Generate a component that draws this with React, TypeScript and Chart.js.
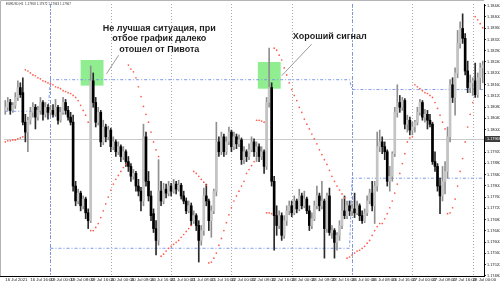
import React, { useEffect, useRef } from "react";
import { Chart, registerables } from "chart.js";

Chart.register(...registerables);

// ---- H1 candles (EURUSD, 16 Jul 2021 06:00 → 28 Jul 2021) ----
const openP = [
  1.18068, 1.18079, 1.18096, 1.18068, 1.18086, 1.18114, 1.18149, 1.18131, 1.18026, 1.17991,
  1.18033, 1.18061, 1.18079, 1.18044, 1.18068, 1.18096, 1.18054, 1.18079, 1.18061, 1.18068,
  1.18054, 1.18079, 1.18033, 1.18061, 1.18096, 1.18068, 1.18044, 1.18026, 1.17799, 1.17746,
  1.17774, 1.17729, 1.17753, 1.17704, 1.17676, 1.18173, 1.18096, 1.18026, 1.18061, 1.17956,
  1.18009, 1.17974, 1.17998, 1.17939, 1.17956, 1.17921, 1.17939, 1.17904, 1.17921, 1.17886,
  1.17869, 1.17834, 1.17844, 1.17799, 1.17781, 1.17746, 1.17974, 1.17816, 1.17764, 1.17701,
  1.17648, 1.17606, 1.17781, 1.17746, 1.17788, 1.17774, 1.17799, 1.17781, 1.17806, 1.17788,
  1.17802, 1.17764, 1.17746, 1.17711, 1.17729, 1.17676, 1.17694, 1.17659, 1.17606, 1.17641,
  1.17764, 1.17746, 1.17676, 1.17711, 1.17781, 1.17956, 1.17921, 1.17974, 1.17921, 1.17956,
  1.17991, 1.17939, 1.17974, 1.17949, 1.17963, 1.17893, 1.17921, 1.17904, 1.17928,
  1.17956, 1.17921, 1.17939, 1.17904, 1.17921, 1.17869, 1.18096, 1.18149, 1.17816, 1.17694,
  1.17659, 1.17694, 1.17624, 1.17676, 1.17711, 1.17729, 1.17704, 1.17746, 1.17718, 1.17764,
  1.17729, 1.17753, 1.17711, 1.17659, 1.17683, 1.17729, 1.17764, 1.17729, 1.17746, 1.17648,
  1.17764, 1.17634, 1.17641, 1.17599, 1.17624, 1.17659, 1.17711, 1.17694, 1.17729, 1.17711,
  1.17718, 1.17704, 1.17729, 1.17694, 1.17676, 1.17704, 1.17746, 1.17774, 1.17729, 1.17799,
  1.17939, 1.17956, 1.17939, 1.17921, 1.17816, 1.17834, 1.17914, 1.18061, 1.18096, 1.18079,
  1.18103, 1.18019, 1.18033, 1.17998, 1.18009, 1.18026, 1.18061, 1.18096, 1.18044, 1.18054,
  1.18033, 1.18019, 1.17886, 1.17869, 1.17799, 1.17764, 1.17816, 1.17851, 1.17974, 1.18159,
  1.18114, 1.18201, 1.18306, 1.18359, 1.18324, 1.18208, 1.18149, 1.18166, 1.18173,
  1.18124, 1.18184, 1.18219,
];
const highP = [
  1.18103, 1.18114, 1.18107, 1.18096, 1.18131, 1.18173, 1.18166, 1.18184, 1.18054, 1.18044,
  1.18079, 1.18096, 1.18089, 1.18082, 1.18114, 1.18103, 1.18096, 1.18089, 1.18086, 1.18089,
  1.18107, 1.18086, 1.18079, 1.18114, 1.18107, 1.18082, 1.18061, 1.18051, 1.17816, 1.17788,
  1.17781, 1.17764, 1.17760, 1.17718, 1.18226, 1.18201, 1.18114, 1.18079, 1.18068, 1.18033,
  1.18019, 1.18012, 1.18005, 1.17974, 1.17963, 1.17956, 1.17946, 1.17939, 1.17928, 1.17904,
  1.17879, 1.17858, 1.17851, 1.17823, 1.17795, 1.18019, 1.17991, 1.17851, 1.17781, 1.17718,
  1.17676, 1.17893, 1.17816, 1.17809, 1.17806, 1.17816, 1.17809, 1.17823, 1.17816, 1.17820,
  1.17809, 1.17781, 1.17757, 1.17746, 1.17739, 1.17711, 1.17701, 1.17676, 1.17659, 1.17792,
  1.17806, 1.17753, 1.17729, 1.17788, 1.18026, 1.17974, 1.17991, 1.17984, 1.17974, 1.18009,
  1.17998, 1.17991, 1.17984, 1.17981, 1.17970, 1.17939, 1.17928, 1.17949, 1.17974,
  1.17967, 1.17956, 1.17949, 1.17939, 1.17928, 1.18114, 1.18289, 1.18166, 1.17834, 1.17729,
  1.17711, 1.17704, 1.17694, 1.17729, 1.17746, 1.17746, 1.17764, 1.17753, 1.17788, 1.17774,
  1.17781, 1.17760, 1.17729, 1.17704, 1.17746, 1.17799, 1.17774, 1.17816, 1.17753, 1.17774,
  1.17792, 1.17659, 1.17648, 1.17634, 1.17676, 1.17753, 1.17764, 1.17746, 1.17746, 1.17736,
  1.17774, 1.17746, 1.17736, 1.17711, 1.17718, 1.17764, 1.17788, 1.17816, 1.17816, 1.17991,
  1.17998, 1.17974, 1.17956, 1.17928, 1.17869, 1.17921, 1.18079, 1.18159, 1.18121, 1.18114,
  1.18110, 1.18051, 1.18044, 1.18026, 1.18033, 1.18079, 1.18107, 1.18103, 1.18072, 1.18068,
  1.18054, 1.18026, 1.17921, 1.17879, 1.17827, 1.17869, 1.17886, 1.18009, 1.18177, 1.18184,
  1.18219, 1.18352, 1.18383, 1.18411, 1.18341, 1.18243, 1.18194, 1.18184, 1.18236,
  1.18201, 1.18236, 1.18243,
];
const lowP = [
  1.18054, 1.18068, 1.18054, 1.18061, 1.18075, 1.18103, 1.18114, 1.18016, 1.17956, 1.17921,
  1.18019, 1.18044, 1.18002, 1.18033, 1.18054, 1.18033, 1.18044, 1.18037, 1.18051, 1.18044,
  1.18047, 1.18019, 1.18026, 1.18054, 1.18054, 1.18033, 1.18016, 1.17781, 1.17729, 1.17736,
  1.17711, 1.17718, 1.17683, 1.17648, 1.17669, 1.18079, 1.18009, 1.18016, 1.17939, 1.17946,
  1.17956, 1.17963, 1.17921, 1.17928, 1.17904, 1.17911, 1.17886, 1.17893, 1.17869, 1.17851,
  1.17816, 1.17823, 1.17781, 1.17764, 1.17711, 1.17729, 1.17799, 1.17746, 1.17676, 1.17634,
  1.17554, 1.17589, 1.17729, 1.17736, 1.17757, 1.17764, 1.17764, 1.17774, 1.17771, 1.17781,
  1.17753, 1.17736, 1.17701, 1.17704, 1.17659, 1.17666, 1.17641, 1.17529, 1.17589, 1.17624,
  1.17729, 1.17641, 1.17617, 1.17701, 1.17764, 1.17904, 1.17911, 1.17904, 1.17911, 1.17946,
  1.17921, 1.17928, 1.17932, 1.17939, 1.17876, 1.17879, 1.17886, 1.17893, 1.17921,
  1.17904, 1.17886, 1.17886, 1.17893, 1.17844, 1.17858, 1.18079, 1.17799, 1.17571, 1.17624,
  1.17648, 1.17606, 1.17613, 1.17659, 1.17697, 1.17690, 1.17697, 1.17704, 1.17711, 1.17718,
  1.17722, 1.17701, 1.17641, 1.17648, 1.17676, 1.17718, 1.17711, 1.17718, 1.17543, 1.17634,
  1.17624, 1.17613, 1.17543, 1.17571, 1.17606, 1.17648, 1.17683, 1.17683, 1.17694, 1.17694,
  1.17687, 1.17697, 1.17676, 1.17666, 1.17669, 1.17694, 1.17736, 1.17711, 1.17666, 1.17781,
  1.17921, 1.17914, 1.17893, 1.17799, 1.17781, 1.17816, 1.17904, 1.18044, 1.18061, 1.18068,
  1.18002, 1.17991, 1.17981, 1.17981, 1.17991, 1.18016, 1.18051, 1.18033, 1.18026, 1.18002,
  1.18009, 1.17876, 1.17851, 1.17781, 1.17701, 1.17746, 1.17771, 1.17827, 1.17956, 1.18096,
  1.18051, 1.18184, 1.18289, 1.18306, 1.18194, 1.18131, 1.18131, 1.18121, 1.18114,
  1.18114, 1.18142, 1.18166,
];
const closeP = [
  1.18079, 1.18096, 1.18068, 1.18086, 1.18114, 1.18149, 1.18124, 1.18026, 1.17991, 1.18033,
  1.18061, 1.18079, 1.18044, 1.18068, 1.18096, 1.18054, 1.18079, 1.18061, 1.18068, 1.18054,
  1.18079, 1.18033, 1.18061, 1.18096, 1.18068, 1.18044, 1.18026, 1.17799, 1.17746, 1.17774,
  1.17729, 1.17753, 1.17704, 1.17676, 1.18173, 1.18096, 1.18026, 1.18061, 1.17956, 1.18009,
  1.17974, 1.17998, 1.17939, 1.17956, 1.17921, 1.17939, 1.17904, 1.17921, 1.17886, 1.17869,
  1.17834, 1.17844, 1.17799, 1.17781, 1.17746, 1.17974, 1.17816, 1.17764, 1.17694, 1.17648,
  1.17606, 1.17781, 1.17746, 1.17788, 1.17774, 1.17799, 1.17781, 1.17806, 1.17788, 1.17802,
  1.17764, 1.17746, 1.17711, 1.17729, 1.17676, 1.17694, 1.17659, 1.17606, 1.17641, 1.17764,
  1.17746, 1.17676, 1.17711, 1.17781, 1.17956, 1.17921, 1.17974, 1.17921, 1.17956, 1.17991,
  1.17939, 1.17974, 1.17949, 1.17963, 1.17893, 1.17921, 1.17904, 1.17928, 1.17956,
  1.17921, 1.17939, 1.17904, 1.17921, 1.17869, 1.18096, 1.18149, 1.17816, 1.17694, 1.17659,
  1.17694, 1.17624, 1.17676, 1.17711, 1.17729, 1.17704, 1.17746, 1.17718, 1.17764, 1.17729,
  1.17753, 1.17711, 1.17659, 1.17683, 1.17729, 1.17764, 1.17729, 1.17746, 1.17648, 1.17764,
  1.17634, 1.17641, 1.17599, 1.17624, 1.17659, 1.17711, 1.17694, 1.17729, 1.17711, 1.17718,
  1.17704, 1.17729, 1.17694, 1.17676, 1.17704, 1.17746, 1.17774, 1.17729, 1.17799, 1.17939,
  1.17956, 1.17939, 1.17921, 1.17816, 1.17834, 1.17914, 1.18061, 1.18096, 1.18079, 1.18103,
  1.18019, 1.18033, 1.17998, 1.18009, 1.18026, 1.18061, 1.18096, 1.18044, 1.18054, 1.18033,
  1.18019, 1.17886, 1.17869, 1.17799, 1.17764, 1.17816, 1.17851, 1.17974, 1.18159, 1.18114,
  1.18201, 1.18306, 1.18359, 1.18324, 1.18208, 1.18149, 1.18166, 1.18173, 1.18124,
  1.18184, 1.18219, 1.18229,
];
// ---- Parabolic SAR dots ----
const sarP = [
  1.17956, 1.17960, 1.17960, 1.17963, 1.17963, 1.17967, 1.17970, 1.17974, 1.18212, 1.18208,
  1.18201, 1.18194, 1.18191, 1.18184, 1.18180, 1.18173, 1.18170, 1.18166, 1.18163, 1.18159,
  1.18152, 1.18149, 1.18145, 1.18138, 1.18135, 1.18131, 1.18128, 1.18121, 1.18114, 1.18103,
  1.18086, 1.18068, 1.18051, 1.18026, 1.17641, 1.17641, 1.17652, 1.17666, 1.17687, 1.17711,
  1.17736, 1.17760, 1.17785, 1.17806, 1.17823, 1.17837, 1.17851, 1.17865, 1.17876, 1.18229,
  1.18215, 1.18205, 1.18184, 1.18152, 1.18117, 1.18082, 1.18054, 1.18026, 1.17991, 1.17956,
  1.17928, 1.17904, 1.17550, 1.17557, 1.17568, 1.17578, 1.17585, 1.17592, 1.17599, 1.17606,
  1.17617, 1.17627, 1.17638, 1.17648, 1.17659, 1.17851, 1.17844, 1.17834, 1.17823, 1.17813,
  1.17802, 1.17526, 1.17529, 1.17543, 1.17561, 1.17589, 1.17613, 1.17641, 1.17669, 1.17697,
  1.17722, 1.17746, 1.17764, 1.17781, 1.17799, 1.17816, 1.17844, 1.17858, 1.17872,
  1.17886, 1.18033, 1.18033, 1.18030, 1.18026, 1.17704, 1.17704, 1.17701, 1.18289, 1.18282,
  1.18264, 1.18247, 1.18219, 1.18194, 1.18166, 1.18142, 1.18121, 1.18103, 1.18079, 1.18061,
  1.18037, 1.18019, 1.18002, 1.17984, 1.17967, 1.17949, 1.17928, 1.17911, 1.17893, 1.17876,
  1.17855, 1.17834, 1.17816, 1.17799, 1.17785, 1.17771, 1.17757, 1.17543, 1.17547, 1.17554,
  1.17561, 1.17568, 1.17571, 1.17578, 1.17585, 1.17596, 1.17606, 1.17624, 1.17641, 1.17655,
  1.17666, 1.17666, 1.17683, 1.17701, 1.17722, 1.17746, 1.17774, 1.17806, 1.17844, 1.17879,
  1.17914, 1.17956, 1.17970, 1.17974, 1.18159, 1.18152, 1.18145, 1.18138, 1.18131, 1.18128,
  1.18121, 1.18114, 1.18096, 1.18075, 1.18051, 1.18026, 1.18002, 1.17701, 1.17704, 1.17722,
  1.17753, 1.17799, 1.17851, 1.17897, 1.17956, 1.18009, 1.18054, 1.18096, 1.18401,
  1.18390, 1.18376, 1.18362,
];

// ---- time axis ----
const tickBars = [0, 10, 18, 26, 34, 42, 50, 58, 66, 74, 82, 90, 98, 106, 114, 122, 130, 138, 146, 154, 162, 170, 178, 186];
const tickTexts = [
  "16 Jul 2021", "16 Jul 16:00", "19 Jul 00:00", "19 Jul 08:00", "19 Jul 16:00", "20 Jul 00:00",
  "20 Jul 08:00", "20 Jul 16:00", "21 Jul 00:00", "21 Jul 08:00", "21 Jul 16:00", "22 Jul 00:00",
  "22 Jul 08:00", "22 Jul 16:00", "23 Jul 00:00", "23 Jul 08:00", "23 Jul 16:00", "26 Jul 00:00",
  "26 Jul 08:00", "26 Jul 16:00", "27 Jul 00:00", "27 Jul 08:00", "27 Jul 16:00", "28 Jul 00:00",
];
const dayStartBars = [18, 42, 66, 90, 114, 138, 162, 186];

// ---- weekly pivot levels ----
const weekStartBars = [0, 18, 138];
const pivotUpper: (number | null)[] = [1.18065, 1.18177, 1.18142];
const pivotLower: (number | null)[] = [null, 1.17578, 1.17827];
const bidPrice = 1.17967;

// ---- annotations ----
const boxFrom = [30.0, 100.5];
const boxTo = [39.1, 109.6];
const boxTop = [1.18247, 1.1824];
const boxBottom = [1.18156, 1.18145];
const noteLines = [["Не лучшая ситуация, при", "отбое график далеко", "отошел от Пивота"], ["Хороший сигнал"]];
const noteBar = [61.3, 114.4];
const notePrices = [[1.1836, 1.18322, 1.18285], [1.18329]];
const noteAlign = ["center", "left"];
const pointerFromBar = [40.3, 110.0];
const pointerFromPrice = [1.18198, 1.18191];
const pointerToBar = [45.1, 121.9];
const pointerToPrice = [1.18264, 1.18303];
const headerText = "EURUSD,H1  1.17958 1.17972 1.17943 1.17967";

const FONT = "'Liberation Sans', Arial, sans-serif";

function levelSeries(levels: (number | null)[], n: number) {
  const out: (number | null)[] = [];
  for (let i = 0; i < n; i++) {
    let w = 0;
    for (let k = 0; k < weekStartBars.length; k++) if (i >= weekStartBars[k]) w = k;
    out.push(levels[w]);
  }
  return out;
}

const overlayPlugin = {
  id: "overlay",
  beforeDatasetsDraw(chart: any) {
    const { ctx, chartArea: a } = chart;
    const x = chart.scales.x;
    const y = chart.scales.y;
    ctx.save();
    ctx.beginPath();
    ctx.rect(a.left, a.top, a.right - a.left, a.bottom - a.top);
    ctx.clip();
    ctx.fillStyle = "#90ee90";
    for (let k = 0; k < boxFrom.length; k++) {
      const x1 = x.getPixelForValue(boxFrom[k]);
      const x2 = x.getPixelForValue(boxTo[k]);
      const y1 = y.getPixelForValue(boxTop[k]);
      const y2 = y.getPixelForValue(boxBottom[k]);
      ctx.fillRect(x1, y1, x2 - x1, y2 - y1);
    }
    ctx.lineWidth = 1;
    ctx.strokeStyle = "#a9a9a9";
    ctx.setLineDash([1, 2]);
    for (const b of dayStartBars) {
      const px = Math.round(x.getPixelForValue(b)) + 0.5;
      ctx.beginPath();
      ctx.moveTo(px, a.top);
      ctx.lineTo(px, a.bottom);
      ctx.stroke();
    }
    ctx.strokeStyle = "#7896e8";
    ctx.setLineDash([3, 2, 1, 2]);
    for (let k = 1; k < weekStartBars.length; k++) {
      const px = Math.round(x.getPixelForValue(weekStartBars[k])) + 0.5;
      ctx.beginPath();
      ctx.moveTo(px, a.top);
      ctx.lineTo(px, a.bottom);
      ctx.stroke();
    }
    ctx.setLineDash([]);
    ctx.strokeStyle = "#cacaca";
    const by = Math.round(y.getPixelForValue(bidPrice)) + 0.5;
    ctx.beginPath();
    ctx.moveTo(a.left, by);
    ctx.lineTo(a.right, by);
    ctx.stroke();
    ctx.restore();
  },
  afterDatasetsDraw(chart: any) {
    const { ctx } = chart;
    const x = chart.scales.x;
    const y = chart.scales.y;
    ctx.save();
    ctx.strokeStyle = "#9a9a9a";
    ctx.lineWidth = 1;
    for (let k = 0; k < pointerFromBar.length; k++) {
      ctx.beginPath();
      ctx.moveTo(x.getPixelForValue(pointerFromBar[k]), y.getPixelForValue(pointerFromPrice[k]));
      ctx.lineTo(x.getPixelForValue(pointerToBar[k]), y.getPixelForValue(pointerToPrice[k]));
      ctx.stroke();
    }
    ctx.fillStyle = "#1e1e1e";
    ctx.font = `bold 9px ${FONT}`;
    ctx.textBaseline = "middle";
    for (let k = 0; k < noteLines.length; k++) {
      ctx.textAlign = noteAlign[k] as CanvasTextAlign;
      noteLines[k].forEach((t, j) => {
        ctx.fillText(t, x.getPixelForValue(noteBar[k]), y.getPixelForValue(notePrices[k][j]));
      });
    }
    ctx.restore();
  },
  afterDraw(chart: any) {
    const { ctx, chartArea: a } = chart;
    const y = chart.scales.y;
    ctx.save();
    ctx.strokeStyle = "#b4b4b4";
    ctx.lineWidth = 1;
    ctx.beginPath();
    ctx.moveTo(0.5, a.bottom);
    ctx.lineTo(0.5, 0.5);
    ctx.lineTo(a.right, 0.5);
    ctx.stroke();
    ctx.strokeStyle = "#000";
    ctx.beginPath();
    ctx.moveTo(0, a.bottom + 0.5);
    ctx.lineTo(a.right + 1, a.bottom + 0.5);
    ctx.stroke();
    ctx.fillStyle = "#333";
    ctx.font = `3px ${FONT}`;
    ctx.textAlign = "left";
    ctx.textBaseline = "middle";
    ctx.fillText(headerText, 6, 4);
    const by = Math.round(y.getPixelForValue(bidPrice));
    ctx.fillStyle = "#3c3c3c";
    ctx.fillRect(a.right + 1, by - 3, 16, 6);
    ctx.fillStyle = "#ffffff";
    ctx.font = `3.8px ${FONT}`;
    ctx.fillText(bidPrice.toFixed(5), a.right + 3, by + 0.3);
    ctx.restore();
  },
};

export default function App() {
  const ref = useRef<HTMLCanvasElement>(null);
  useEffect(() => {
    const n = openP.length;
    const labels = Array.from({ length: n }, (_, i) => String(i));
    const up = closeP.map((c, i) => c >= openP[i]);
    const chart = new Chart(ref.current as HTMLCanvasElement, {
      type: "bar",
      data: {
        labels,
        datasets: [
          {
            type: "line",
            data: sarP,
            showLine: false,
            pointRadius: 0.85,
            pointBorderWidth: 0,
            pointBackgroundColor: "#ff5a4a",
            order: -1,
          } as any,
          {
            type: "bar",
            data: openP.map((o, i) => [Math.min(o, closeP[i]), Math.max(o, closeP[i])]),
            backgroundColor: up.map((u) => (u ? "#c4c4c4" : "#000000")),
            barThickness: 2,
            minBarLength: 1,
            grouped: false,
            borderWidth: 0,
            order: 0,
          } as any,
          {
            type: "bar",
            data: lowP.map((l, i) => [l, highP[i]]),
            backgroundColor: up.map((u) => (u ? "#909090" : "#2a2a2a")),
            barThickness: 1,
            minBarLength: 1,
            grouped: false,
            borderWidth: 0,
            order: 1,
          } as any,
          {
            type: "line",
            data: levelSeries(pivotUpper, n),
            borderColor: "#7896e8",
            borderWidth: 1,
            borderDash: [3, 2, 1, 2],
            pointRadius: 0,
            spanGaps: false,
            order: 3,
          } as any,
          {
            type: "line",
            data: levelSeries(pivotLower, n),
            borderColor: "#7896e8",
            borderWidth: 1,
            borderDash: [3, 2, 1, 2],
            pointRadius: 0,
            spanGaps: false,
            order: 3,
          } as any,
        ],
      },
      options: {
        responsive: false,
        animation: false,
        devicePixelRatio: 1,
        layout: { padding: { left: 2, top: 0, right: 0, bottom: 0 } },
        plugins: { legend: { display: false }, tooltip: { enabled: false } },
        scales: {
          x: {
            type: "category",
            offset: true,
            grid: { display: false, drawTicks: false },
            border: { display: false },
            ticks: {
              autoSkip: false,
              maxRotation: 0,
              minRotation: 0,
              align: "start",
              padding: 1,
              color: "#222",
              font: { size: 4.3, family: FONT },
              callback: (_v: any, i: number) => {
                const k = tickBars.indexOf(i);
                return k >= 0 ? tickTexts[k] : "";
              },
            },
            afterFit: (s: any) => {
              s.height = 6;
              s.paddingLeft = 0;
              s.paddingRight = 0;
            },
          },
          y: {
            type: "linear",
            position: "right",
            min: 1.174795,
            max: 1.18446,
            grid: { display: true, drawOnChartArea: false, drawTicks: true, tickLength: 2, color: "#333", lineWidth: 1 },
            border: { display: true, color: "#000", width: 1 },
            ticks: {
              stepSize: 0.0004,
              includeBounds: false,
              autoSkip: false,
              padding: 1,
              color: "#222",
              font: { size: 3.8, family: FONT },
              callback: (v: any) => Number(v).toFixed(5),
            },
            afterFit: (s: any) => {
              s.width = 16;
              s.paddingTop = 0;
              s.paddingBottom = 0;
            },
          },
        },
      } as any,
      plugins: [overlayPlugin],
    });
    return () => chart.destroy();
  }, []);
  return (
    <div style={{ position: "fixed", left: 0, top: 0, width: 500, height: 282, background: "#ffffff" }}>
      <canvas ref={ref} width={500} height={282} style={{ display: "block", width: 500, height: 282 }} />
    </div>
  );
}
